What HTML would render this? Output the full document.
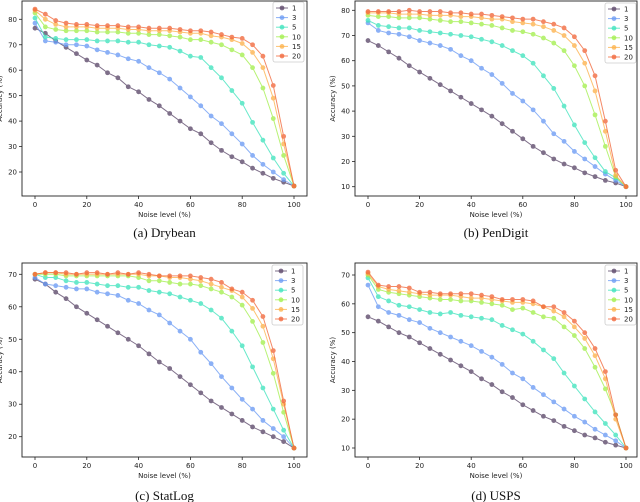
<!DOCTYPE html>
<html><head><meta charset="utf-8"><style>
body{margin:0;background:#fff;width:640px;height:502px;overflow:hidden}
svg{display:block}
text{font-family:"DejaVu Sans","Liberation Sans",sans-serif}
.cap{font-family:"Liberation Serif",serif;font-size:13px}
</style></head><body>
<svg id="fig" width="640" height="502" viewBox="0 0 640 502" xmlns="http://www.w3.org/2000/svg"></svg>
<script>
const xs = [0,4,8,12,16,20,24,28,32,36,40,44,48,52,56,60,64,68,72,76,80,84,88,92,96,100];
const seriesNames = ["1","3","5","10","15","20"];
const colors = ["#5b4769","#6b9bf4","#3fe3bd","#a3ef4e","#fdb24c","#f1673a"];
const xTicks = [0,20,40,60,80,100];
const drybean = [
 [76.5,74.5,71.5,69,66.5,64,62,59,57,53.5,51.5,48.5,46,43,40,37,35,31.5,28.5,26,24,21.5,19.5,17.5,16,14.5],
 [78.5,71.5,71,70,70,69.5,68,67,66,64.5,63.5,61,59,56.5,53,49.5,46,42,39,35,31,26.5,23,20,17,14.5],
 [80.5,73,72.5,72,72,72,71.5,71.5,71.5,71,71,70,69.5,69,67.5,65.5,65,61,57,52,47,39.5,32.5,25.5,19.5,14.5],
 [82.5,77,76,75.5,75.5,75.5,75,75,75,74.5,74.5,74,74,73.5,73,72,72,71,70,68,66,61,53,41,26.5,14.5],
 [83.5,80,78,77,77,77,76.5,76.5,76.5,76,76,75.5,75.5,75.5,75,74.5,74.5,73.5,73,72,70.5,67,61,49,31,14.5],
 [84,82,79.5,78.5,78,78,77.5,77.5,77.5,77,77,76.5,76.5,76.5,76,75.5,75.5,75,74,73,72.5,70,65.5,54,34,14.5]];
const pendigit = [
 [68,66,63.5,61,58,55.5,53,50.5,48,45.5,43,40.5,38,35,32,29,26,23.5,21,19,17.5,15.5,14,12.5,11.5,10],
 [75,72,71,70.5,69.5,68,67,66,64.5,62,60,57,54.5,51,47,44,40.5,36,31,28,24,21,18,15,12.5,10],
 [76,74,73.5,73,73,72,71.5,71,70.5,70,69.5,68.5,67.5,66,64,62,59,54,49,42,34.5,27.5,21.5,16,13.5,10],
 [78,77.5,77.5,77,77,77,76.5,76,75.5,75.5,75,74.5,74,73,72,71.5,70.5,69,67,64,58,50,38.5,26,14,10],
 [79,79,79,78.5,78.5,78.5,78,78,78,77.5,77.5,77,76.5,76.5,75.5,75,74.5,73.5,72,70,66,59,48,32,14.5,10],
 [79.5,79.5,79.5,79.5,80,79.5,79.5,79.5,79,79,78.5,78.5,78,77.5,77,76.5,76.5,75.5,74.5,73,69.5,64,54,36,16.5,10]];
const statlog = [
 [68.5,67,64.5,62.5,60,58,56,54,52,50,48,45.5,43,41,38.5,36,33.5,31,29,27,25,23,21.5,20,18.5,16.5],
 [69,67,66.5,66,65.5,65.5,64.5,64,63.5,62,61,59,57.5,55,52.5,50,46,42.5,38.5,35,31.5,28.5,25,22.5,20,16.5],
 [70,69,69,68,67.5,67.5,67,66.5,66.5,66,66,65,64.5,64,63,62,61,59,56.5,52.5,48,41.5,35,28.5,22,16.5],
 [70,70,70,69.5,69.5,69.5,69.5,69.5,69.5,69.5,69,68,68,67.5,67,67,66.5,65.5,64.5,63,60.5,55.5,49,39.5,27.5,16.5],
 [70,70.5,70.5,70,70,70,70,70,70,70,70,69.5,69.5,69,69,68.5,68,67,66,65,63,59.5,54,44,30,16.5],
 [70,70.5,70.5,70.5,70,70.5,70.5,70,70.5,70,70.5,70,69.5,69.5,69.5,69.5,69,68.5,67.5,65.5,64.5,62,57,46.5,31,16.5]];
const usps = [
 [55.5,54,52,50,48.5,46.5,44.5,42.5,40.5,38.5,36.5,34,32,29.5,27.5,25,23,21,19.5,17.5,16,14.5,13.5,12,11,10],
 [66.5,59,57,56,54.5,53.5,51.5,50,48.5,47,45.5,43.5,41.5,39,36,34,31,28.5,26,23.5,21,19,16.5,14.5,12.5,10],
 [69,62.5,61,59.5,59,58,57,56.5,57,56,55.5,55,54.5,52.5,51,49.5,47,44,41,36,31.5,27,22.5,18.5,14.5,10],
 [70,65,64,63.5,63,62.5,62,61.5,61.5,61,61,60.5,60,59.5,58,58.5,57,55.5,55,52,49,44.5,38,30.5,21.5,10],
 [70.5,66,65,64.5,64,63.5,63,63,63,62.5,62,62,61.5,61,60.5,60.5,60,59,57.5,55.5,52,48,42,34,20,10],
 [71,66.5,66,66,65.5,64,64,63.5,63.5,63.5,63.5,63,62.5,61.5,61.5,61.5,61,59,59,57,54,50,44.5,36.5,21.5,10]];
const yTicksA=[20,30,40,50,60,70,80], yTicksB=[10,20,30,40,50,60,70,80], yTicksC=[20,30,40,50,60,70], yTicksD=[10,20,30,40,50,60,70];

const NS="http://www.w3.org/2000/svg";
const fig=document.getElementById('fig');
function mk(tag,attrs,parent){const e=document.createElementNS(NS,tag);for(const k in attrs)e.setAttribute(k,attrs[k]);(parent||fig).appendChild(e);return e;}

function panel(o){
  const g=mk('g',{});
  
  
  const sx=v=>o.x0+(v-0)*(o.x100-o.x0)/100;
  const sy=v=>o.ya+(v-o.va)*(o.yb-o.ya)/(o.vb-o.va);
  const fr=mk('rect',{x:o.L,y:o.T,width:o.R-o.L,height:o.B-o.T,fill:'none',stroke:'#222','stroke-width':0.9},g);
  
  
  xTicks.forEach(t=>{
    mk('line',{x1:sx(t),x2:sx(t),y1:o.B,y2:o.B+3,stroke:'#222','stroke-width':0.8},g);
    const tx=mk('text',{x:sx(t),y:o.B+11,'font-size':7,'text-anchor':'middle',fill:'#222'},g);
    tx.textContent=t;
    
    
  });
  o.yt.forEach(t=>{
    mk('line',{x1:o.L-3,x2:o.L,y1:sy(t),y2:sy(t),stroke:'#222','stroke-width':0.8},g);
    const tx=mk('text',{x:o.L-5,y:sy(t)+2.5,'font-size':7,'text-anchor':'end',fill:'#222'},g);
    tx.textContent=t;
    
    
  });
  const xl=mk('text',{x:(o.L+o.R)/2,y:o.B+21,'font-size':7,'text-anchor':'middle',fill:'#222'},g);
  xl.textContent='Noise level (%)';
  
  
  const yx=o.L-20, yy=(o.T+o.B)/2;
  const yl=mk('text',{x:yx,y:yy,'font-size':7,'text-anchor':'middle',fill:'#222',transform:`rotate(-90 ${yx} ${yy})`},g);
  yl.textContent='Accuracy (%)';
  
  
  o.data.forEach((s,i)=>{
    const sg=mk('g',{opacity:0.78},g);
    
    
    mk('polyline',{points:s.map((v,j)=>sx(xs[j])+','+sy(v)).join(' '),fill:'none',stroke:colors[i],'stroke-width':1},sg);
    s.forEach((v,j)=>{
      const c=mk('circle',{cx:sx(xs[j]),cy:sy(v),r:2.4,fill:colors[i]},sg);
      
      
    });
  });
  const lg=mk('g',{},g);
  
  
  mk('rect',{x:o.lx,y:o.ly,width:31,height:60,rx:2,fill:'#fff',stroke:'#ccc','stroke-width':0.8},lg);
  seriesNames.forEach((n,i)=>{
    const y=o.ly+6+i*9.6;
    const e=mk('g',{},lg);
    
    
    mk('line',{x1:o.lx+3,x2:o.lx+15,y1:y,y2:y,stroke:colors[i],'stroke-width':1,opacity:0.78},e);
    mk('circle',{cx:o.lx+9,cy:y,r:2.4,fill:colors[i],opacity:0.78},e);
    const t=mk('text',{x:o.lx+19,y:y+2.5,'font-size':7,fill:'#222'},e);
    t.textContent=n;
  });
  const cp=mk('text',{x:(o.L+o.R)/2,y:o.cy,'text-anchor':'middle',class:'cap',fill:'#111'},g);
  cp.textContent=o.cap;
  
  
}
panel({name:'drybean',data:drybean,L:22,R:307,T:1,B:196,x0:35,x100:294,va:80,ya:19.3,vb:20,yb:172,yt:yTicksA,lx:273,ly:2,cap:'(a) Drybean',cy:237});
panel({name:'pendigit',data:pendigit,L:355,R:637,T:1,B:196,x0:368,x100:626,va:80,ya:10.3,vb:10,yb:186.7,yt:yTicksB,lx:605,ly:3,cap:'(b) PenDigit',cy:237});
panel({name:'statlog',data:statlog,L:22,R:307,T:263,B:457,x0:35,x100:294,va:70,ya:274.3,vb:20,yb:436.7,yt:yTicksC,lx:272,ly:265,cap:'(c) StatLog',cy:500});
panel({name:'usps',data:usps,L:355,R:637,T:263,B:457,x0:368,x100:626,va:70,ya:275,vb:10,yb:448,yt:yTicksD,lx:605,ly:265,cap:'(d) USPS',cy:500});
</script>
</body></html>
